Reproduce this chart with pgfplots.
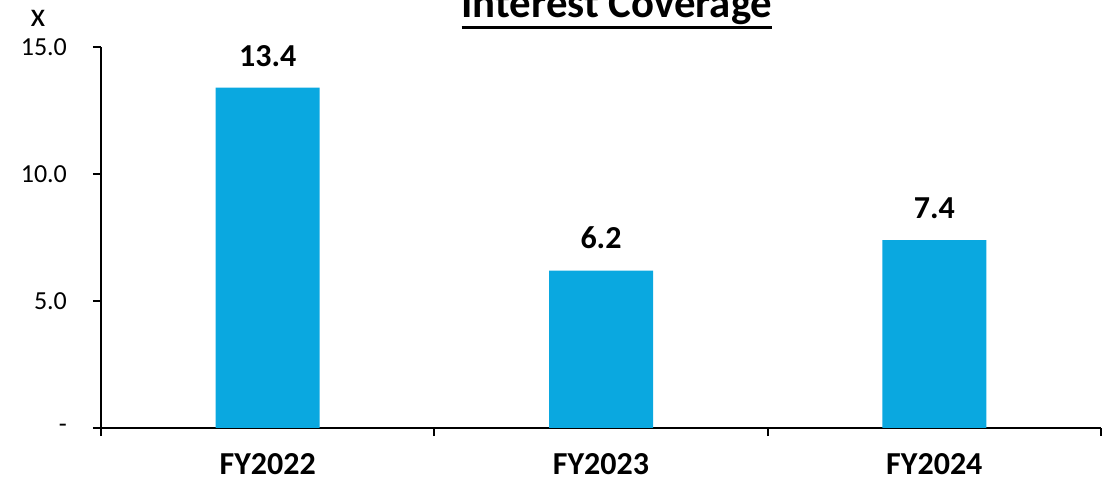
\documentclass[border=0pt]{standalone}
\usepackage{fontspec}
\setmainfont{Carlito}
\usepackage{pgfplots}
\pgfplotsset{compat=1.18}
\definecolor{barblue}{HTML}{0AA8E0}
\begin{document}
\begin{tikzpicture}[x=1pt,y=1pt]
\path[use as bounding box] (0,0) rectangle (557,240.5);
\begin{axis}[
    at={(50.5pt,26.5pt)}, anchor=south west,
    scale only axis, width=500pt, height=190.5pt,
    xmin=-0.5, xmax=2.5, ymin=0, ymax=15,
    axis x line*=bottom, axis y line*=left,
    axis line style={line width=0.9pt},
    tick style={line width=0.9pt, black},
    tick align=outside, major tick length=4pt,
    xtick={-0.5,0.5,1.5,2.5}, xticklabels={,,,},
    extra x ticks={0,1,2},
    extra x tick labels={FY2022,FY2023,FY2024},
    extra x tick style={major tick length=0pt,
        xticklabel style={font=\fontsize{16}{16}\selectfont\bfseries, yshift=-9pt}},
    ytick={0,5,10,15},
    yticklabels={{-\hspace{6pt}},5.0,10.0,15.0},
    yticklabel style={font=\fontsize{13}{13}\selectfont, xshift=-9.5pt},
    title={\setbox0\hbox{Interest Coverage}\rlap{\rule[-5.5pt]{\wd0}{1.5pt}}\box0},
    title style={at={(0.516,1)}, anchor=base, yshift=8.5pt,
        font=\fontsize{21.4}{21.4}\selectfont\bfseries},
    ylabel={x},
    every axis y label/.style={at={(axis description cs:-0.063,1)},
        anchor=base, yshift=10pt, font=\fontsize{17}{17}\selectfont},
    ybar, bar width=52pt,
    nodes near coords,
    /pgf/number format/assume math mode=true,
    /pgf/number format/.cd, fixed, fixed zerofill, precision=1, /pgfplots/.cd,
    every node near coord/.append style={font=\fontsize{16}{16}\selectfont\bfseries,
        inner sep=0pt, yshift=10.5pt, black},
]
\addplot[fill=barblue, draw=none] coordinates {(0,13.4) (1,6.2) (2,7.4)};
\end{axis}
\end{tikzpicture}
\end{document}
